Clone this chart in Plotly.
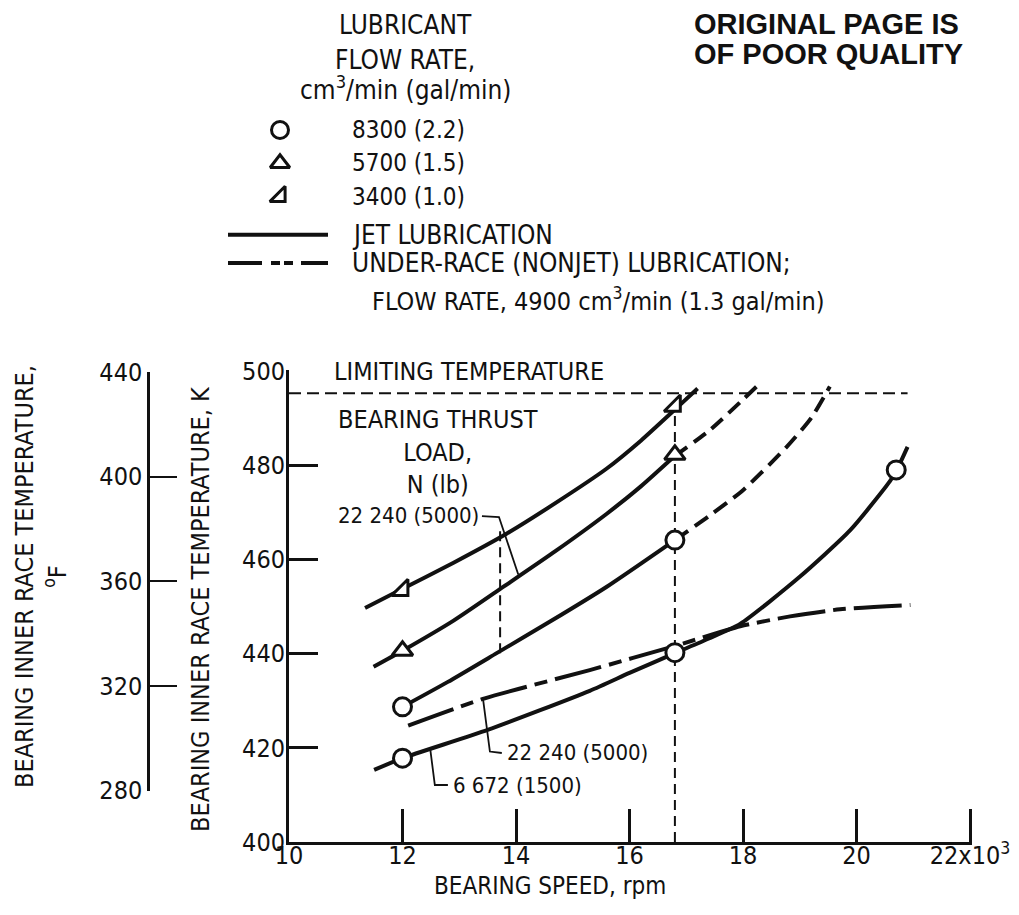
import plotly.graph_objects as go

# page body keeps an 8 px margin, so the figure is drawn 8 px in from the corner
OFF = 8
W, H = 1019 - 2 * OFF, 915 - 2 * OFF
FONT = "Liberation Sans Narrow, DejaVu Sans Condensed, Arial Narrow, sans-serif"
INK = "#111111"

# ---------------- data ----------------
speed_ticks = [10, 12, 14, 16, 18, 20, 22]
speed_ticktext = ["10", "12", "14", "16", "18", "20", "22x10<sup>3</sup>"]
tempK_ticks = [400, 420, 440, 460, 480, 500]
tempF_ticks = [280, 320, 360, 400, 440]

flow_names = ["8300 (2.2)", "5700 (1.5)", "3400 (1.0)"]
flow_symbols = ["circle", "triangle-up", "triangle-se"]
line_names = ["JET LUBRICATION", "UNDER-RACE (NONJET) LUBRICATION;"]
line_note = "FLOW RATE, 4900 cm<sup>3</sup>/min (1.3 gal/min)"

# test points: bearing speed (10^3 rpm), inner-race temperature (K)
pts_8300_x = [12.0, 12.0, 16.8, 16.8, 20.7]
pts_8300_y = [428.7, 417.8, 464.1, 440.2, 479.0]
pts_5700_x = [12.0, 16.8]
pts_5700_y = [440.6, 482.2]
pts_3400_x = [12.0, 16.8]
pts_3400_y = [453.5, 492.6]

# faired curves, jet lubrication, 22 240 N load
jet3400_x = [11.34, 11.96, 12.9, 13.84, 14.7, 15.6, 16.2, 16.8, 17.2]
jet3400_y = [449.7, 453.5, 459.3, 465.5, 472.0, 479.3, 485.2, 491.8, 496.3]
jet5700_x = [11.49, 12.0, 12.9, 13.78, 14.7, 15.6, 16.2, 16.8]
jet5700_y = [437.2, 440.6, 447.0, 454.2, 461.8, 469.7, 475.5, 482.0]
jet5700_ext_x = [16.8, 17.42, 18.24]
jet5700_ext_y = [482.0, 487.5, 496.7]
jet8300_x = [12.0, 12.8, 13.66, 14.6, 15.6, 16.8]
jet8300_y = [428.7, 434.0, 440.1, 446.8, 454.2, 464.1]
jet8300_ext_x = [16.8, 17.4, 18.0, 18.77, 19.2, 19.53]
jet8300_ext_y = [464.1, 469.2, 474.7, 483.9, 490.0, 496.7]
# jet lubrication, 6 672 N load
jet8300_lo_x = [11.5, 12.0, 13.5, 15.3, 16.0, 16.8, 17.4, 17.95, 19.0, 19.89, 20.59, 20.71, 20.9]
jet8300_lo_y = [415.3, 417.8, 423.8, 432.1, 435.9, 440.1, 443.2, 446.3, 456.3, 466.2, 476.6, 479.0, 483.9]
# under-race lubrication, 22 240 N load
under_x = [12.1, 13.45, 15.3, 16.85, 17.95, 18.83, 19.71, 20.95]
under_y = [424.7, 430.5, 436.5, 441.8, 445.8, 447.9, 449.4, 450.3]

limit_temp_K = 495.3
limit_span_x = [10.0, 20.9]

guide_x = [13.72, 16.8]
guide_y0 = [440.1, 400.0]
guide_y1 = [466.5, 492.0]

lead_upper_x = [13.40, 13.70, 14.04]
lead_upper_y = [469.2, 469.0, 456.8]
lead_ur_x = [13.42, 13.54, 13.75]
lead_ur_y = [430.3, 419.2, 418.9]
lead_lo_x = [12.49, 12.57, 12.80]
lead_lo_y = [419.6, 412.1, 412.1]

legend_rows = [0, 1, 2, 3.15, 4.0]


def f2k(f):
    return (f - 32.0) * 5.0 / 9.0 + 273.15


# ---------------- layout geometry (reference-page pixels) ----------------
def px_x(p):
    return (p - OFF) / W


def px_y(p):
    return 1 - (p - OFF) / H


X0, X1 = 10.0, 22.0
Y0, Y1 = 400.0, 500.0
XPX0, XPX1 = 289, 970          # x = 10 and 22
YPX0, YPX1 = 842, 371          # y = 400 K and 500 K
EPS_X, EPS_Y = 0.03, 0.15      # tiny overshoot so the end ticks are kept
xppu = (XPX1 - XPX0) / (X1 - X0)
yppu = (YPX0 - YPX1) / (Y1 - Y0)
xdom = [px_x(XPX0), px_x(XPX1 + EPS_X * xppu)]
ydom = [px_y(YPX0), px_y(YPX1 - EPS_Y * yppu)]
xrng = [X0, X1 + EPS_X]
yrng = [Y0, Y1 + EPS_Y]


def k_to_paper(k):
    return ydom[0] + (k - yrng[0]) / (yrng[1] - yrng[0]) * (ydom[1] - ydom[0])


y2dom = [k_to_paper(f2k(tempF_ticks[0])), k_to_paper(f2k(tempF_ticks[-1]))]

# legend inset: rows of 33.25 px starting at 130 px, x unit = 100 px starting at 228 px
ROW0, ROWH = 130.0, 33.25
LX0, LXU = 228.0, 100.0
lrow_rng = [-3.6, 5.6]
lx_rng = [-0.3, 5.5]
y3dom = [px_y(ROW0 + lrow_rng[1] * ROWH), px_y(ROW0 + lrow_rng[0] * ROWH)]
x3dom = [px_x(LX0 + lx_rng[0] * LXU), px_x(LX0 + lx_rng[1] * LXU)]

fig = go.Figure()

LW = 4


def curve(x, y, dash="solid", width=LW):
    fig.add_trace(go.Scatter(x=x, y=y, mode="lines", showlegend=False,
                             line=dict(color=INK, width=width, dash=dash,
                                       shape="spline", smoothing=0.6),
                             hoverinfo="skip"))


# limit line and guides
fig.add_trace(go.Scatter(x=limit_span_x, y=[limit_temp_K] * 2, mode="lines",
                         showlegend=False,
                         line=dict(color=INK, width=2, dash="12px,6px")))
for gx, g0, g1 in zip(guide_x, guide_y0, guide_y1):
    fig.add_trace(go.Scatter(x=[gx, gx], y=[g0, g1], mode="lines", showlegend=False,
                             line=dict(color=INK, width=2, dash="10px,6px")))

curve(jet3400_x, jet3400_y)
curve(jet5700_x, jet5700_y)
curve(jet5700_ext_x, jet5700_ext_y, dash="15px,8px")
curve(jet8300_x, jet8300_y)
curve(jet8300_ext_x, jet8300_ext_y, dash="16px,8px")
curve(jet8300_lo_x, jet8300_lo_y)
curve(under_x, under_y, dash="48px,8px,13px,8px")

for lx, ly in [(lead_upper_x, lead_upper_y), (lead_ur_x, lead_ur_y), (lead_lo_x, lead_lo_y)]:
    fig.add_trace(go.Scatter(x=lx, y=ly, mode="lines", showlegend=False,
                             line=dict(color=INK, width=1.8)))

MS = 18
for px, py, sym in [(pts_8300_x, pts_8300_y, flow_symbols[0]),
                    (pts_5700_x, pts_5700_y, flow_symbols[1]),
                    (pts_3400_x, pts_3400_y, flow_symbols[2])]:
    fig.add_trace(go.Scatter(x=px, y=py, mode="markers", showlegend=False,
                             marker=dict(symbol=sym, size=MS, color="white",
                                         line=dict(color=INK, width=3))))

# invisible trace so the deg F axis is drawn
fig.add_trace(go.Scatter(x=[None], y=[None], yaxis="y2", mode="markers",
                         showlegend=False))

# legend keys on an inset axis
for i, sym in enumerate(flow_symbols):
    fig.add_trace(go.Scatter(x=[0.52], y=[legend_rows[i]], xaxis="x3", yaxis="y3",
                             mode="markers", showlegend=False,
                             marker=dict(symbol=sym, size=MS - 1, color="white",
                                         line=dict(color=INK, width=3))))
fig.add_trace(go.Scatter(x=[0, 1], y=[legend_rows[3]] * 2, xaxis="x3", yaxis="y3",
                         mode="lines", showlegend=False,
                         line=dict(color=INK, width=LW)))
fig.add_trace(go.Scatter(x=[0, 1], y=[legend_rows[4]] * 2, xaxis="x3", yaxis="y3",
                         mode="lines", showlegend=False,
                         line=dict(color=INK, width=LW, dash="34px,9px,9px,4px,9px,8px")))

def fnt(size):
    return dict(family=FONT, size=size, color=INK)


ann = []
for i, name in enumerate(flow_names + line_names):
    ann.append(dict(x=1.22, y=legend_rows[i], xref="x3", yref="y3", text=name,
                    showarrow=False, xanchor="left", yanchor="middle",
                    font=fnt(24 if i < 3 else 26)))
ann.append(dict(x=1.42, y=5.11, xref="x3", yref="y3", text=line_note,
                showarrow=False, xanchor="left", yanchor="middle", font=fnt(25)))
for txt, r in [("LUBRICANT", -3.16), ("FLOW RATE,", -2.11),
               ("cm<sup>3</sup>/min (gal/min)", -1.27)]:
    ann.append(dict(x=1.77, y=r, xref="x3", yref="y3", text=txt, showarrow=False,
                    xanchor="center", yanchor="middle", font=fnt(26)))

# in-plot labels
ann += [
    dict(x=10.76, y=500, xref="x", yref="y", text="LIMITING TEMPERATURE",
         showarrow=False, xanchor="left", yanchor="middle", font=fnt(25)),
    dict(x=12.62, y=482.8, xref="x", yref="y", text="BEARING THRUST<br>LOAD,<br>N (lb)",
         showarrow=False, xanchor="center", yanchor="middle", font=fnt(25)),
    dict(x=13.38, y=469.3, xref="x", yref="y", text="22 240 (5000)",
         showarrow=False, xanchor="right", yanchor="middle", font=fnt(22)),
    dict(x=13.80, y=418.9, xref="x", yref="y", text="22 240 (5000)",
         showarrow=False, xanchor="left", yanchor="middle", font=fnt(22)),
    dict(x=12.85, y=412.1, xref="x", yref="y", text="6 672 (1500)",
         showarrow=False, xanchor="left", yanchor="middle", font=fnt(22)),
]

# axis titles
ann += [
    dict(x=14.6, y=px_y(886), xref="x", yref="paper", text="BEARING SPEED, rpm",
         showarrow=False, xanchor="center", yanchor="middle", font=fnt(24)),
    dict(x=px_x(200), y=px_y(609), xref="paper", yref="paper",
         text="BEARING INNER RACE TEMPERATURE, K", textangle=-90,
         showarrow=False, xanchor="center", yanchor="middle", font=fnt(25)),
    dict(x=px_x(41), y=px_y(577), xref="paper", yref="paper",
         text="BEARING INNER RACE TEMPERATURE,<br><sup>o</sup>F", textangle=-90,
         showarrow=False, xanchor="center", yanchor="middle", font=fnt(25)),
]

# stamp
sf = dict(family="Liberation Sans, Arial, sans-serif", size=29, color=INK)
ann += [
    dict(x=px_x(692), y=px_y(24), xref="paper", yref="paper", text="<b>ORIGINAL PAGE IS</b>",
         showarrow=False, xanchor="left", yanchor="middle", font=sf),
    dict(x=px_x(692), y=px_y(54), xref="paper", yref="paper", text="<b>OF POOR QUALITY</b>",
         showarrow=False, xanchor="left", yanchor="middle", font=sf),
]

axis_common = dict(showgrid=False, zeroline=False, showline=True, linecolor=INK,
                   automargin=False, ticks="inside", tickcolor=INK,
                   ticklabeloverflow="allow", tickfont=fnt(25))

fig.update_layout(
    width=W, height=H, autosize=False,
    margin=dict(l=0, r=0, t=0, b=0, pad=0, autoexpand=False),
    paper_bgcolor="white", plot_bgcolor="rgba(0,0,0,0)",
    showlegend=False,
    xaxis=dict(domain=xdom, range=xrng, tickvals=speed_ticks, ticktext=speed_ticktext,
               ticklen=33, tickwidth=2.5, linewidth=3, anchor="y",
               ticklabelstandoff=-11, **axis_common),
    yaxis=dict(domain=ydom, range=yrng, tickvals=tempK_ticks,
               ticklen=29, tickwidth=2.5, linewidth=3, anchor="x",
               ticklabelstandoff=-4, **axis_common),
    yaxis2=dict(domain=y2dom, range=[tempF_ticks[0], tempF_ticks[-1]], tickvals=tempF_ticks,
                anchor="free", position=px_x(148), side="left",
                ticklen=27, tickwidth=2, linewidth=2.5, **axis_common),
    xaxis3=dict(domain=x3dom, range=lx_rng, visible=False,
                anchor="y3", fixedrange=True),
    yaxis3=dict(domain=y3dom, range=[lrow_rng[1], lrow_rng[0]], visible=False,
                anchor="x3", fixedrange=True),
    annotations=ann,
)

fig.write_html("out.html")
